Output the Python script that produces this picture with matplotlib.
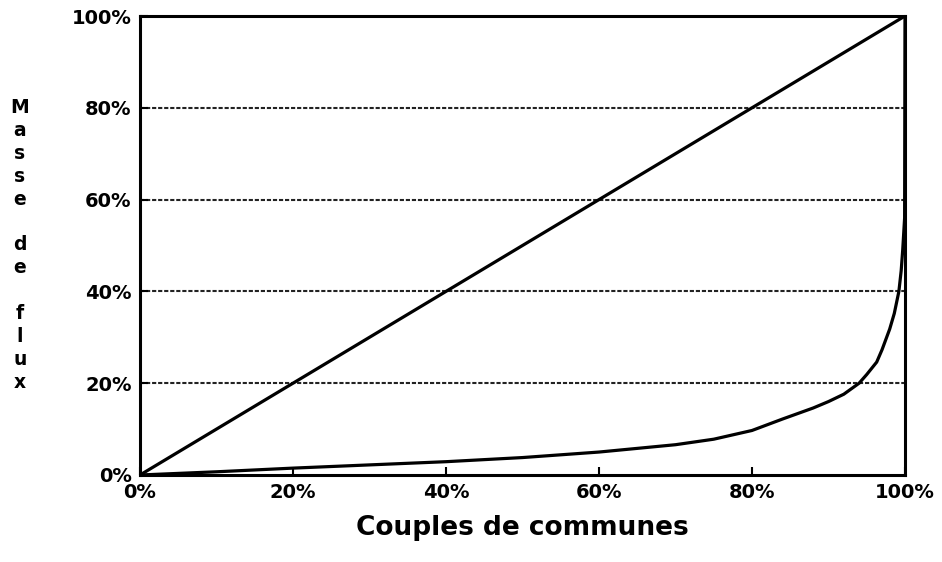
import matplotlib
matplotlib.use("Agg")
import matplotlib.pyplot as plt
from matplotlib.ticker import FuncFormatter

# Data (percentages)
couples = [0, 10, 20, 30, 40, 50, 60, 70, 75, 80, 84, 88, 90, 92, 94, 95, 96.3, 97, 98, 98.6, 99.2, 99.5, 99.7, 99.95, 100]
masse   = [0, 0.7, 1.5, 2.2, 2.9, 3.8, 5.0, 6.6, 7.8, 9.7, 12.2, 14.6, 16.0, 17.6, 20.0, 21.9, 24.6, 27.3, 31.8, 35.2, 40.0, 44.5, 49.0, 56.0, 100]
egalite_x = [0, 100]
egalite_y = [0, 100]
ticks = [0, 20, 40, 60, 80, 100]
grid_levels = [20, 40, 60, 80]
xlabel = "Couples de communes"
ylabel = "Masse de flux"

plt.rcParams['font.family'] = ['DejaVu Sans']
plt.rcParams['font.weight'] = 'bold'

fig = plt.figure(figsize=(9.42, 5.62), dpi=100)
ax = fig.add_axes([140/942, 1-475/562, 765/942, 459/562])

for g in grid_levels:
    ax.axhline(g, color='#222222', linewidth=1.5, linestyle=(0, (2.0, 0.9)), zorder=1)

ax.plot(egalite_x, egalite_y, color='black', linewidth=2.3, zorder=3, solid_capstyle='butt')
ax.plot(couples, masse, color='black', linewidth=2.3, zorder=3, solid_joinstyle='round')

ax.set_xlim(0, 100)
ax.set_ylim(0, 100)
ax.set_xticks(ticks)
ax.set_yticks(ticks)
fmt = FuncFormatter(lambda v, p: f"{int(v)}%")
ax.xaxis.set_major_formatter(fmt)
ax.yaxis.set_major_formatter(fmt)
ax.tick_params(direction='in', length=6, width=1.5, labelsize=14, pad=6)
for lab in ax.get_xticklabels() + ax.get_yticklabels():
    lab.set_fontweight('heavy')
for s in ax.spines.values():
    s.set_linewidth(2.2)

ax.set_xlabel(xlabel, fontsize=19, fontweight='heavy', labelpad=9)
stack = "\n".join(" " if c == " " else c for c in ylabel)
ax.set_ylabel(stack, rotation=0, fontsize=13.5, fontweight='heavy', linespacing=1.26,
              va='center', ha='center')
ax.yaxis.set_label_coords(-0.157, (475-245)/459)

fig.savefig("out.png", dpi=100, facecolor='white')
